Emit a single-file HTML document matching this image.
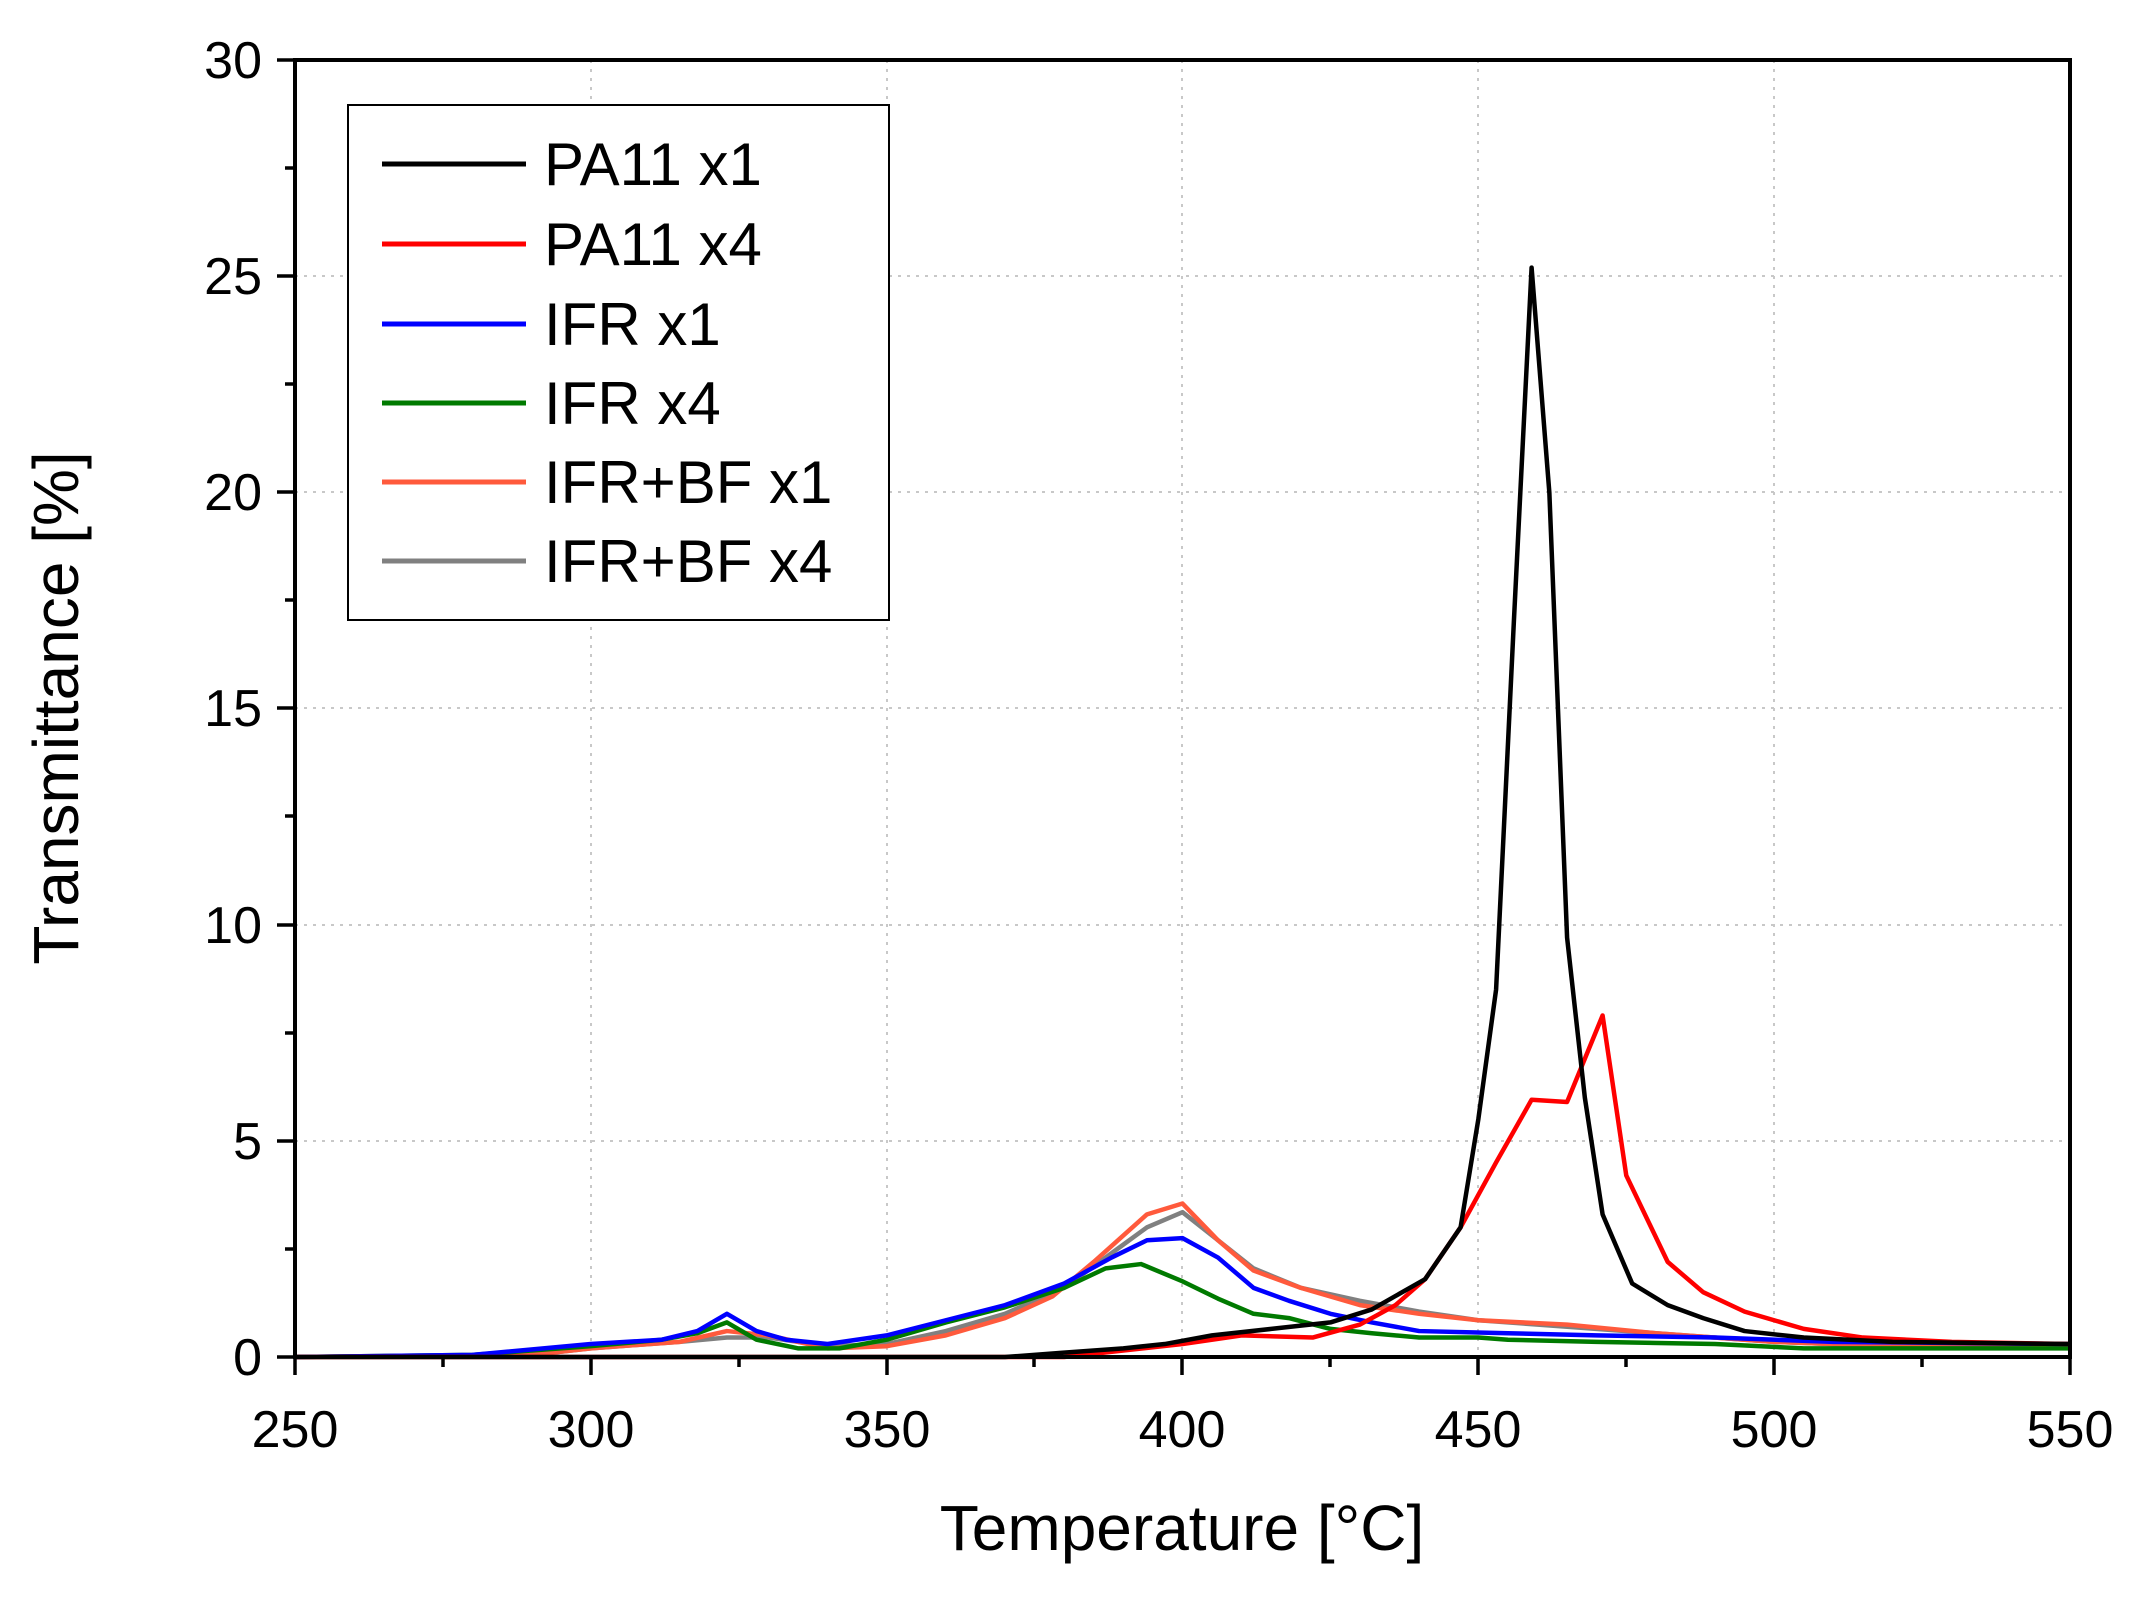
<!DOCTYPE html>
<html><head><meta charset="utf-8"><style>
html,body{margin:0;padding:0;background:#fff}
svg{display:block}
text{font-family:"Liberation Sans",sans-serif;fill:#000}
</style></head><body>
<svg width="2141" height="1601" viewBox="0 0 2141 1601" xmlns="http://www.w3.org/2000/svg">
<rect width="2141" height="1601" fill="#fff"/>
<g stroke="#c8c8c8" stroke-width="2" stroke-dasharray="3,6">
<line x1="591" y1="60" x2="591" y2="1357"/><line x1="887" y1="60" x2="887" y2="1357"/>
<line x1="1182" y1="60" x2="1182" y2="1357"/><line x1="1478" y1="60" x2="1478" y2="1357"/>
<line x1="1774" y1="60" x2="1774" y2="1357"/>
<line x1="295" y1="1141" x2="2070" y2="1141"/><line x1="295" y1="925" x2="2070" y2="925"/>
<line x1="295" y1="708" x2="2070" y2="708"/><line x1="295" y1="492" x2="2070" y2="492"/>
<line x1="295" y1="276" x2="2070" y2="276"/>
</g>
<g transform="translate(295,1357) scale(5.9167,-43.23) translate(-250,0)" fill="none" stroke-width="4.5" stroke-linejoin="round">
<polyline vector-effect="non-scaling-stroke" stroke="#808080" points="250,0 290,0.05 300,0.2 315,0.35 323,0.45 330,0.45 340,0.25 350,0.3 360,0.6 370,1.0 380,1.6 388,2.4 394,3.0 400,3.35 406,2.7 412,2.05 420,1.6 430,1.3 440,1.05 450,0.85 465,0.7 480,0.55 500,0.35 520,0.25 550,0.22"/>
<polyline vector-effect="non-scaling-stroke" stroke="#ff5a3c" points="250,0 290,0.05 300,0.2 315,0.35 323,0.6 330,0.5 340,0.2 350,0.25 360,0.5 370,0.9 378,1.4 385,2.2 394,3.3 400,3.55 406,2.7 412,2.0 420,1.6 430,1.2 440,1.0 450,0.85 465,0.75 480,0.55 500,0.35 520,0.25 550,0.25"/>
<polyline vector-effect="non-scaling-stroke" stroke="#007a00" points="250,0 280,0.05 300,0.25 312,0.4 318,0.55 323,0.8 328,0.4 335,0.2 342,0.2 350,0.4 360,0.8 370,1.15 380,1.6 387,2.05 393,2.15 400,1.75 406,1.35 412,1.0 418,0.9 425,0.65 432,0.55 440,0.45 450,0.45 455,0.4 470,0.35 490,0.3 505,0.2 550,0.2"/>
<polyline vector-effect="non-scaling-stroke" stroke="#0000ff" points="250,0 280,0.05 300,0.3 312,0.4 318,0.6 323,1.0 328,0.6 333,0.4 340,0.3 350,0.5 360,0.85 370,1.2 380,1.7 388,2.3 394,2.7 400,2.75 406,2.3 412,1.6 418,1.3 425,1.0 432,0.8 440,0.6 455,0.55 470,0.5 490,0.45 510,0.35 550,0.3"/>
<polyline vector-effect="non-scaling-stroke" stroke="#ff0000" points="250,0 380,0 390,0.15 400,0.3 410,0.5 422,0.45 430,0.75 436,1.2 441,1.8 447,3.0 453,4.5 459,5.95 465,5.9 471,7.9 475,4.2 482,2.2 488,1.5 495,1.05 505,0.65 515,0.45 530,0.35 550,0.3"/>
<polyline vector-effect="non-scaling-stroke" stroke="#000" points="250,0 370,0 380,0.1 390,0.2 397,0.3 405,0.5 415,0.65 425,0.8 432,1.1 441,1.8 447,3.0 450,5.5 453,8.5 456,17 459,25.2 462,20 465,9.7 468,6 471,3.3 476,1.7 482,1.2 488,0.9 495,0.6 505,0.45 520,0.35 550,0.3"/>
</g>
<rect x="295" y="60" width="1775" height="1297" fill="none" stroke="#000" stroke-width="4"/>
<g stroke="#000" stroke-width="3.5">
<line x1="295" y1="1357" x2="295" y2="1375"/><line x1="591" y1="1357" x2="591" y2="1375"/><line x1="887" y1="1357" x2="887" y2="1375"/><line x1="1182" y1="1357" x2="1182" y2="1375"/><line x1="1478" y1="1357" x2="1478" y2="1375"/><line x1="1774" y1="1357" x2="1774" y2="1375"/><line x1="2070" y1="1357" x2="2070" y2="1375"/>
<line x1="443" y1="1357" x2="443" y2="1367"/><line x1="739" y1="1357" x2="739" y2="1367"/><line x1="1034" y1="1357" x2="1034" y2="1367"/><line x1="1330" y1="1357" x2="1330" y2="1367"/><line x1="1626" y1="1357" x2="1626" y2="1367"/><line x1="1922" y1="1357" x2="1922" y2="1367"/>
<line x1="277" y1="1357" x2="295" y2="1357"/><line x1="277" y1="1141" x2="295" y2="1141"/><line x1="277" y1="925" x2="295" y2="925"/><line x1="277" y1="708" x2="295" y2="708"/><line x1="277" y1="492" x2="295" y2="492"/><line x1="277" y1="276" x2="295" y2="276"/><line x1="277" y1="60" x2="295" y2="60"/>
<line x1="285" y1="1249" x2="295" y2="1249"/><line x1="285" y1="1033" x2="295" y2="1033"/><line x1="285" y1="816" x2="295" y2="816"/><line x1="285" y1="600" x2="295" y2="600"/><line x1="285" y1="384" x2="295" y2="384"/><line x1="285" y1="168" x2="295" y2="168"/>
</g>
<g font-size="52" text-anchor="middle">
<text x="295" y="1447">250</text><text x="591" y="1447">300</text><text x="887" y="1447">350</text><text x="1182" y="1447">400</text><text x="1478" y="1447">450</text><text x="1774" y="1447">500</text><text x="2070" y="1447">550</text>
</g>
<g font-size="52" text-anchor="end">
<text x="262" y="1375">0</text><text x="262" y="1159">5</text><text x="262" y="943">10</text><text x="262" y="726">15</text><text x="262" y="510">20</text><text x="262" y="294">25</text><text x="262" y="78">30</text>
</g>
<text x="1182" y="1550" font-size="64" text-anchor="middle">Temperature [°C]</text>
<text transform="translate(78,708) rotate(-90)" font-size="64" text-anchor="middle">Transmittance [%]</text>
<rect x="348" y="105" width="541" height="515" fill="#fff" stroke="#000" stroke-width="2"/>
<g stroke-width="5">
<line x1="382" y1="164" x2="526" y2="164" stroke="#000"/>
<line x1="382" y1="244" x2="526" y2="244" stroke="#ff0000"/>
<line x1="382" y1="324" x2="526" y2="324" stroke="#0000ff"/>
<line x1="382" y1="403" x2="526" y2="403" stroke="#007a00"/>
<line x1="382" y1="482" x2="526" y2="482" stroke="#ff5a3c"/>
<line x1="382" y1="561" x2="526" y2="561" stroke="#808080"/>
</g>
<g font-size="60">
<text x="544" y="185">PA11 x1</text><text x="544" y="265">PA11 x4</text><text x="544" y="345">IFR x1</text><text x="544" y="424">IFR x4</text><text x="544" y="503">IFR+BF x1</text><text x="544" y="582">IFR+BF x4</text>
</g>
</svg>
</body></html>
